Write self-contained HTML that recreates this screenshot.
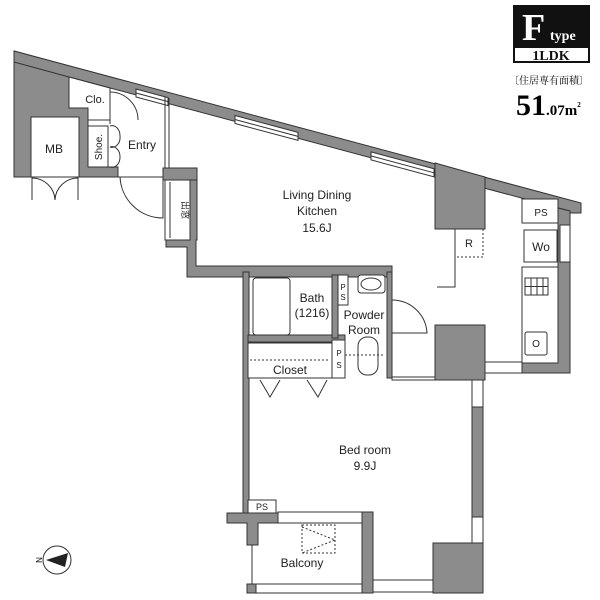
<!DOCTYPE html>
<html><head><meta charset="utf-8"><style>
html,body{margin:0;padding:0;background:#fff;}
svg{display:block;font-family:"Liberation Sans","Noto Sans CJK JP",sans-serif;}
</style></head><body>
<svg width="600" height="600" viewBox="0 0 600 600" xmlns="http://www.w3.org/2000/svg">
<g stroke="#333" stroke-width="1" fill="#8c8c8c">
<polygon points="14,51 69,66 69,108 88,108 88,167 118,167 118,177 14,177"/>
<polygon points="14,51 581,203 581,213 570,213 570,211 69,77 14,62"/>
<polygon points="435,163 485,177 485,229 435,229"/>
<polygon points="558,208 570,211 570,373 522,373 522,363 558,363"/>
<rect x="163" y="168" width="34" height="12"/>
<polygon points="190,180 197,180 197,240 196,240 196,266 392,266 392,277 187,277 187,247 166,247 166,240 190,240"/>
<rect x="243" y="272" width="6" height="241"/>
<rect x="248" y="335" width="97" height="7"/>
<rect x="332" y="275" width="6" height="63"/>
<rect x="387" y="272" width="5" height="106"/>
<rect x="435" y="325" width="50" height="55"/>
<rect x="472" y="407" width="11" height="110"/>
<rect x="433" y="543" width="50" height="50"/>
<rect x="362" y="512" width="11" height="81"/>
<polygon points="227,513 278,513 278,523 258,523 258,545 247,545 247,523 227,523"/>
<rect x="247" y="584" width="9" height="9"/>
</g>
<g fill="#fff" stroke="#333" stroke-width="1">
<rect x="31" y="117" width="48" height="60"/>
<polygon points="69,77 110,88 110,120 88,120 88,108 69,108"/>
<rect x="88" y="126" width="20" height="41"/>
<!-- windows on diagonal -->
<polygon points="136,89 168,97.6 168,105.6 136,97"/>
<polygon points="235,115.5 298,132.4 298,140.4 235,123.5"/>
<polygon points="371,151.9 434,168.8 434,176.8 371,159.9"/>
<line x1="136" y1="93" x2="168" y2="101.6"/>
<line x1="235" y1="119.5" x2="298" y2="136.4"/>
<line x1="371" y1="155.9" x2="434" y2="172.8"/>
<rect x="165" y="180" width="25" height="60"/>
<line x1="170" y1="182" x2="170" y2="238"/>
<rect x="522" y="199" width="36" height="24"/>
<rect x="524" y="230" width="33" height="32"/>
<rect x="560" y="225" width="10" height="37"/>
<rect x="522" y="267" width="36" height="96"/>
<rect x="525" y="278" width="23" height="17"/>
<rect x="525" y="332" width="22" height="23" rx="2"/>
<rect x="485" y="362" width="37" height="11"/>
<rect x="253" y="278" width="37" height="57" rx="3"/>
<rect x="338" y="275" width="10" height="30"/>
<rect x="358" y="275" width="27" height="18" rx="3"/>
<ellipse cx="371" cy="284" rx="10" ry="6"/>
<rect x="248" y="343" width="84" height="35"/>
<rect x="332" y="340" width="13" height="38"/>
<rect x="358" y="337" width="20" height="38" rx="9"/>
<rect x="392" y="377" width="43" height="3"/>
<rect x="472" y="380" width="11" height="27"/>
<rect x="472" y="517" width="11" height="26"/>
<rect x="248" y="500" width="28" height="13"/>
<rect x="278" y="512" width="84" height="11"/>
<rect x="256" y="584" width="106" height="9"/>
<rect x="373" y="580" width="60" height="12"/>
</g>
<g fill="none" stroke="#333" stroke-width="1">
<line x1="14" y1="177" x2="163" y2="177"/>
<line x1="110" y1="91" x2="110" y2="124"/>
<line x1="165" y1="97" x2="165" y2="168"/>
<line x1="169" y1="98" x2="169" y2="168"/>
<path d="M120,177 A43,43 0 0 0 163,218 L163,177"/>
<path d="M32,200 L32,178 A23,23 0 0 1 55,200 M78,200 L78,178 A23,23 0 0 0 55,200"/>
<path d="M110,92 A28,28 0 0 1 138,120"/>
<path d="M110,126 A8,10 0 0 1 120,136 A8,10 0 0 1 110,147 M110,147 A8,10 0 0 1 120,157 A8,10 0 0 1 110,167"/>
<path d="M455,229 L455,287 L437,287"/>
<path d="M392,300 A35,35 0 0 1 427,333 L392,333"/>
<path d="M260,380 L270,397 L280,380 M307,380 L318,397 L327,380"/>
<path d="M531,278 V295 M537,278 V295 M543,278 V295 M525,286.5 H548"/>
<line x1="252" y1="545" x2="252" y2="584"/>
<line x1="249" y1="380" x2="249" y2="500"/>
<rect x="302" y="525" width="33" height="28" stroke-dasharray="2,2"/>
<path d="M302,527 L335,540 L302,553" stroke-dasharray="2,2"/>
<rect x="455" y="229" width="28" height="28" stroke-dasharray="2,2"/>
<line x1="250" y1="360" x2="330" y2="360" stroke-dasharray="2,2"/>
<line x1="345" y1="355" x2="385" y2="355" stroke-dasharray="2,2"/>
<circle cx="57" cy="560" r="14"/>
</g>
<polygon points="46,560 68,553 65,567" fill="#222"/>
<text x="38" y="564" font-size="8" transform="rotate(-90 38 560)" text-anchor="middle">N</text>
<rect x="513" y="5" width="77" height="42" fill="#111"/>
<rect x="514" y="47" width="75" height="15" fill="#fff" stroke="#111" stroke-width="2"/>
<text x="522" y="40" font-family="Liberation Serif,serif" font-size="38" font-weight="bold" fill="#fff">F</text>
<text x="550" y="40" font-family="Liberation Serif,serif" font-size="14" font-weight="bold" fill="#fff">type</text>
<text x="551" y="60" font-family="Liberation Serif,serif" font-size="14" font-weight="bold" fill="#111" text-anchor="middle">1LDK</text>
<text x="549" y="84" font-size="10" text-anchor="middle" font-family="Liberation Serif,'Noto Serif CJK SC',serif">〔住居専有面積〕</text>
<text x="516" y="115" font-family="Liberation Serif,serif" font-size="30" font-weight="bold">51<tspan font-size="15">.07m</tspan><tspan font-size="7" dy="-8">2</tspan></text>
<g font-size="12" fill="#222" text-anchor="middle">
<text x="317" y="199">Living Dining</text>
<text x="317" y="215">Kitchen</text>
<text x="317" y="232">15.6J</text>
<text x="365" y="454">Bed room</text>
<text x="365" y="470">9.9J</text>
<text x="312" y="302">Bath</text>
<text x="312" y="317">(1216)</text>
<text x="364" y="319">Powder</text>
<text x="364" y="334">Room</text>
<text x="290" y="374">Closet</text>
<text x="302" y="567">Balcony</text>
<text x="54" y="153">MB</text>
<text x="95" y="103" font-size="11">Clo.</text>
<text x="142" y="149">Entry</text>
<text x="541" y="216" font-size="10">PS</text>
<text x="541" y="251" font-size="12">Wo</text>
<text x="469" y="247" font-size="11">R</text>
<text x="536" y="347" font-size="10">O</text>
<text x="262" y="510" font-size="9">PS</text>
<text x="343" y="290" font-size="8">P</text>
<text x="343" y="300" font-size="8">S</text>
<text x="339" y="356" font-size="8">P</text>
<text x="339" y="368" font-size="8">S</text>
<text x="0" y="0" font-size="10" transform="translate(102,147) rotate(-90)">Shoe.</text>
<text x="0" y="0" font-size="9" transform="translate(182,210) rotate(90)" font-family="'Noto Sans CJK JP',sans-serif">出窓</text>
</g>
</svg>
</body></html>
